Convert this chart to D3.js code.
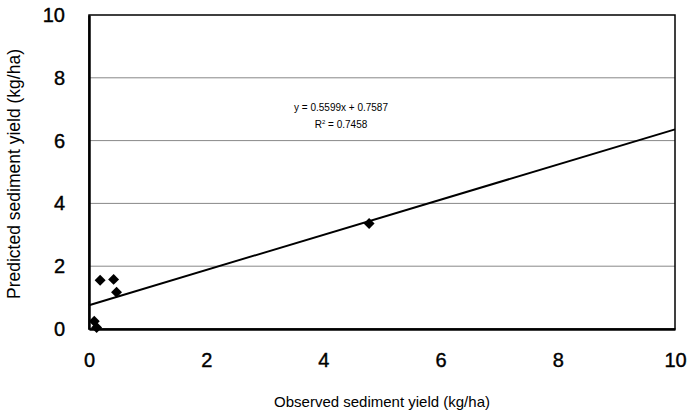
<!DOCTYPE html>
<html>
<head>
<meta charset="utf-8">
<script src="https://cdn.jsdelivr.net/npm/d3@7"></script>
<style>
	body { margin: 0; background: #fff; }
	svg { display: block; font-family: "Liberation Sans", Arial, sans-serif; }
</style>
</head>
<body>
<svg id="chart" width="687" height="412"></svg>
<script>
// Observed vs predicted sediment yield (kg/ha)
var observed = [0.19, 0.42, 0.47, 0.09, 0.13, 4.78];
var predicted = [1.55, 1.58, 1.17, 0.25, 0.05, 3.36];
var ticks = [0, 2, 4, 6, 8, 10];
var slope = 0.5599, intercept = 0.7587;
var eqText = "y = 0.5599x + 0.7587";
var r2Text = "0.7458";

var margin = {top: 15, right: 12, bottom: 83, left: 89};
var width = 687 - margin.left - margin.right,
	height = 412 - margin.top - margin.bottom;

var svg = d3.select("#chart")
	.append("g")
	.attr("transform", "translate(" + margin.left + "," + margin.top + ")");

var x = d3.scaleLinear().domain([0, 10]).range([0, width]);
var y = d3.scaleLinear().domain([0, 10]).range([height, 0]);

// grid lines
svg.append("g")
	.selectAll("line")
	.data(ticks.filter(function(d) { return d > 0 && d < 10; }))
	.enter().append("line")
	.attr("x1", 0)
	.attr("x2", width)
	.attr("y1", function(d) { return y(d); })
	.attr("y2", function(d) { return y(d); })
	.attr("stroke", "#888")
	.attr("stroke-width", 1);

// frame
svg.append("rect")
	.attr("width", width)
	.attr("height", height)
	.attr("fill", "none")
	.attr("stroke", "#000")
	.attr("stroke-width", 1.5);

var xAxis = d3.axisBottom(x).tickValues(ticks).tickSize(0).tickPadding(24);
var yAxis = d3.axisLeft(y).tickValues(ticks).tickSize(0).tickPadding(24);

svg.append("g")
	.attr("transform", "translate(0," + height + ")")
	.call(xAxis)
	.call(function(g) { g.select(".domain").attr("stroke-width", 2.5); });

svg.append("g")
	.call(yAxis)
	.call(function(g) { g.select(".domain").attr("stroke-width", 2.5); });

svg.selectAll(".tick text")
	.attr("font-size", 20)
	.attr("font-family", "Liberation Sans, Arial, sans-serif")
	.attr("fill", "#000")
	.attr("stroke", "#000")
	.attr("stroke-width", 0.4);

// trend line
svg.append("line")
	.attr("x1", x(0))
	.attr("y1", y(intercept))
	.attr("x2", x(10))
	.attr("y2", y(slope * 10 + intercept))
	.attr("stroke", "#000")
	.attr("stroke-width", 2);

// points (square turned 45 degrees)
var pts = d3.range(observed.length).map(function(i) { return [observed[i], predicted[i]]; });
svg.selectAll(".pt")
	.data(pts)
	.enter().append("path")
	.attr("class", "pt")
	.attr("d", d3.symbol().type(d3.symbolSquare).size(60))
	.attr("transform", function(d) { return "translate(" + x(d[0]) + "," + y(d[1]) + ") rotate(45)"; })
	.attr("fill", "#000");

// equation
svg.append("text")
	.attr("x", 252)
	.attr("y", 96)
	.attr("text-anchor", "middle")
	.attr("font-size", 10)
	.text(eqText);

var r2 = svg.append("text")
	.attr("x", 252)
	.attr("y", 113)
	.attr("text-anchor", "middle")
	.attr("font-size", 10);
r2.append("tspan").text("R");
r2.append("tspan").attr("dy", -4).attr("font-size", 6).text("2");
r2.append("tspan").attr("dy", 4).text(" = " + r2Text);

// axis titles
svg.append("text")
	.attr("x", width / 2)
	.attr("y", height + 78)
	.attr("text-anchor", "middle")
	.attr("font-size", 15)
	.text("Observed sediment yield (kg/ha)");

svg.append("text")
	.attr("transform", "translate(" + (-69) + "," + (height / 2 + 2) + ") rotate(-90)")
	.attr("text-anchor", "middle")
	.attr("font-size", 17.5)
	.text("Predicted sediment yield (kg/ha)");
</script>
</body>
</html>
